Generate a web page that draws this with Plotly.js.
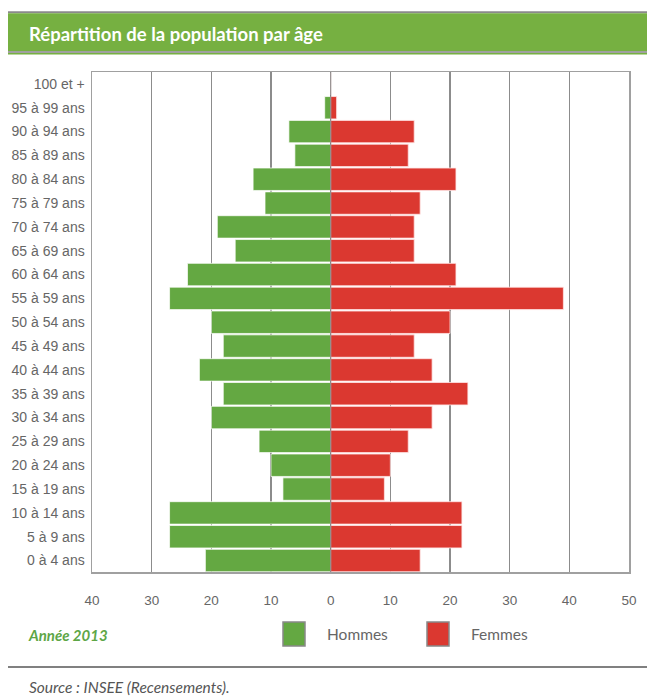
<!DOCTYPE html>
<html>
<head>
<meta charset="utf-8">
<script src="https://cdn.plot.ly/plotly-3.0.1.min.js"></script>
<style>
  html, body { margin: 0; padding: 0; background: #fff; }
  #chart { width: 647px; height: 697px; }
</style>
</head>
<body>
<div id="chart"></div>
<script>
// Age groups (bottom to top)
const ageGroups = [
  "0 à 4 ans", "5 à 9 ans", "10 à 14 ans", "15 à 19 ans", "20 à 24 ans",
  "25 à 29 ans", "30 à 34 ans", "35 à 39 ans", "40 à 44 ans", "45 à 49 ans",
  "50 à 54 ans", "55 à 59 ans", "60 à 64 ans", "65 à 69 ans", "70 à 74 ans",
  "75 à 79 ans", "80 à 84 ans", "85 à 89 ans", "90 à 94 ans", "95 à 99 ans",
  "100 et +"
];
const hommes = [21, 27, 27, 8, 10, 12, 20, 18, 22, 18, 20, 27, 24, 16, 19, 11, 13, 6, 7, 1, 0];
const femmes = [15, 22, 22, 9, 10, 13, 17, 23, 17, 14, 20, 39, 21, 14, 14, 15, 21, 13, 14, 1, 0];

const xTickVals = [-40, -30, -20, -10, 0, 10, 20, 30, 40, 50];
const xTickText = ["40", "30", "20", "10", "0", "10", "20", "30", "40", "50"];

const W = 647, H = 697;
const L = 92, R = 629, T = 72, B = 572;
const px = v => (v - L) / (R - L);
const py = v => (B - v) / (B - T);

const green = "rgb(100,168,66)";
const red = "rgb(219,56,48)";
const bannerGreen = "rgb(118,176,65)";

const traces = [
  {
    type: "bar", orientation: "h", name: "Hommes",
    y: ageGroups, x: hommes.map(v => -v),
    marker: { color: green, line: { color: "rgba(255,255,255,0.7)", width: 1 } },
    hoverinfo: "skip"
  },
  {
    type: "bar", orientation: "h", name: "Femmes",
    y: ageGroups, x: femmes,
    marker: { color: red, line: { color: "rgba(255,230,230,0.8)", width: 1 } },
    hoverinfo: "skip"
  }
];

const shapes = [
  // banner
  { type: "rect", xref: "paper", yref: "paper", x0: px(8), x1: px(647), y0: py(13.3), y1: py(11.3),
    fillcolor: "#8a8a8a", line: { width: 0 }, layer: "above" },
  { type: "rect", xref: "paper", yref: "paper", x0: px(8), x1: px(647), y0: py(51), y1: py(13.3),
    fillcolor: bannerGreen, line: { width: 0 }, layer: "above" },
  { type: "rect", xref: "paper", yref: "paper", x0: px(8), x1: px(647), y0: py(53), y1: py(51),
    fillcolor: "#a0a0a0", line: { width: 0 }, layer: "above" },
  { type: "rect", xref: "paper", yref: "paper", x0: px(8), x1: px(647), y0: py(54.5), y1: py(53),
    fillcolor: bannerGreen, line: { width: 0 }, layer: "above" },
  // zero line over the bars
  { type: "line", xref: "x", yref: "paper", x0: 0, x1: 0, y0: 0, y1: 1,
    line: { color: "rgba(120,120,120,0.8)", width: 1.2 }, layer: "above" },
  // legend squares
  { type: "rect", xref: "paper", yref: "paper", x0: px(283), x1: px(305), y0: py(646), y1: py(622),
    fillcolor: green, line: { color: "#888", width: 1.5 } },
  { type: "rect", xref: "paper", yref: "paper", x0: px(427), x1: px(449), y0: py(646), y1: py(622),
    fillcolor: red, line: { color: "#888", width: 1.5 } },
  // bottom separator
  { type: "rect", xref: "paper", yref: "paper", x0: px(8), x1: px(647), y0: py(668), y1: py(666),
    fillcolor: "#808080", line: { width: 0 } }
];

const annotations = [
  { xref: "paper", yref: "paper", x: px(27), y: py(34), xanchor: "left", yanchor: "middle",
    text: "<b>Répartition de la population par âge</b>", showarrow: false,
    font: { family: "Lato, 'Open Sans', sans-serif", size: 18.5, color: "#ffffff" } },
  { xref: "paper", yref: "paper", x: px(26), y: py(635), xanchor: "left", yanchor: "middle",
    text: "<b><i>Année 2013</i></b>", showarrow: false,
    font: { family: "Lato, sans-serif", size: 15, color: "rgb(93,166,70)" } },
  { xref: "paper", yref: "paper", x: px(325), y: py(634), xanchor: "left", yanchor: "middle",
    text: "Hommes", showarrow: false,
    font: { family: "Lato, sans-serif", size: 15.5, color: "#666" } },
  { xref: "paper", yref: "paper", x: px(469), y: py(634), xanchor: "left", yanchor: "middle",
    text: "Femmes", showarrow: false,
    font: { family: "Lato, sans-serif", size: 15.5, color: "#666" } },
  { xref: "paper", yref: "paper", x: px(27), y: py(687), xanchor: "left", yanchor: "middle",
    text: "<i>Source : INSEE (Recensements).</i>", showarrow: false,
    font: { family: "Lato, sans-serif", size: 15.5, color: "#555" } }
];

const layout = {
  width: W, height: H,
  margin: { l: L, r: W - R, t: T, b: H - B, pad: 0 },
  paper_bgcolor: "#fff", plot_bgcolor: "#fff",
  barmode: "relative", bargap: 0.06,
  showlegend: false,
  xaxis: {
    range: [-40, 50], tickvals: xTickVals, ticktext: xTickText,
    showgrid: true, gridcolor: "#8c8c8c", gridwidth: 1.3,
    zeroline: false,
    showline: true, mirror: true, linecolor: "#a0a0a0", linewidth: 1.5,
    ticks: "outside", ticklen: 15, tickcolor: "rgba(0,0,0,0)",
    tickfont: { family: "'Liberation Sans Narrow', 'Arial Narrow', 'Liberation Sans', sans-serif", size: 13.5, color: "#666" },
    fixedrange: true
  },
  yaxis: {
    type: "category", categoryorder: "array", categoryarray: ageGroups,
    range: [-0.48, 20.5],
    showgrid: false, zeroline: false,
    showline: true, mirror: true, linecolor: "#a0a0a0", linewidth: 1.5,
    ticks: "outside", ticklen: 3, tickcolor: "rgba(0,0,0,0)",
    tickfont: { family: "'Liberation Sans Narrow', 'Arial Narrow', 'Liberation Sans', sans-serif", size: 14, color: "#666" },
    fixedrange: true
  },
  shapes: shapes,
  annotations: annotations
};

Plotly.newPlot("chart", traces, layout, { displayModeBar: false, staticPlot: true });
</script>
</body>
</html>
